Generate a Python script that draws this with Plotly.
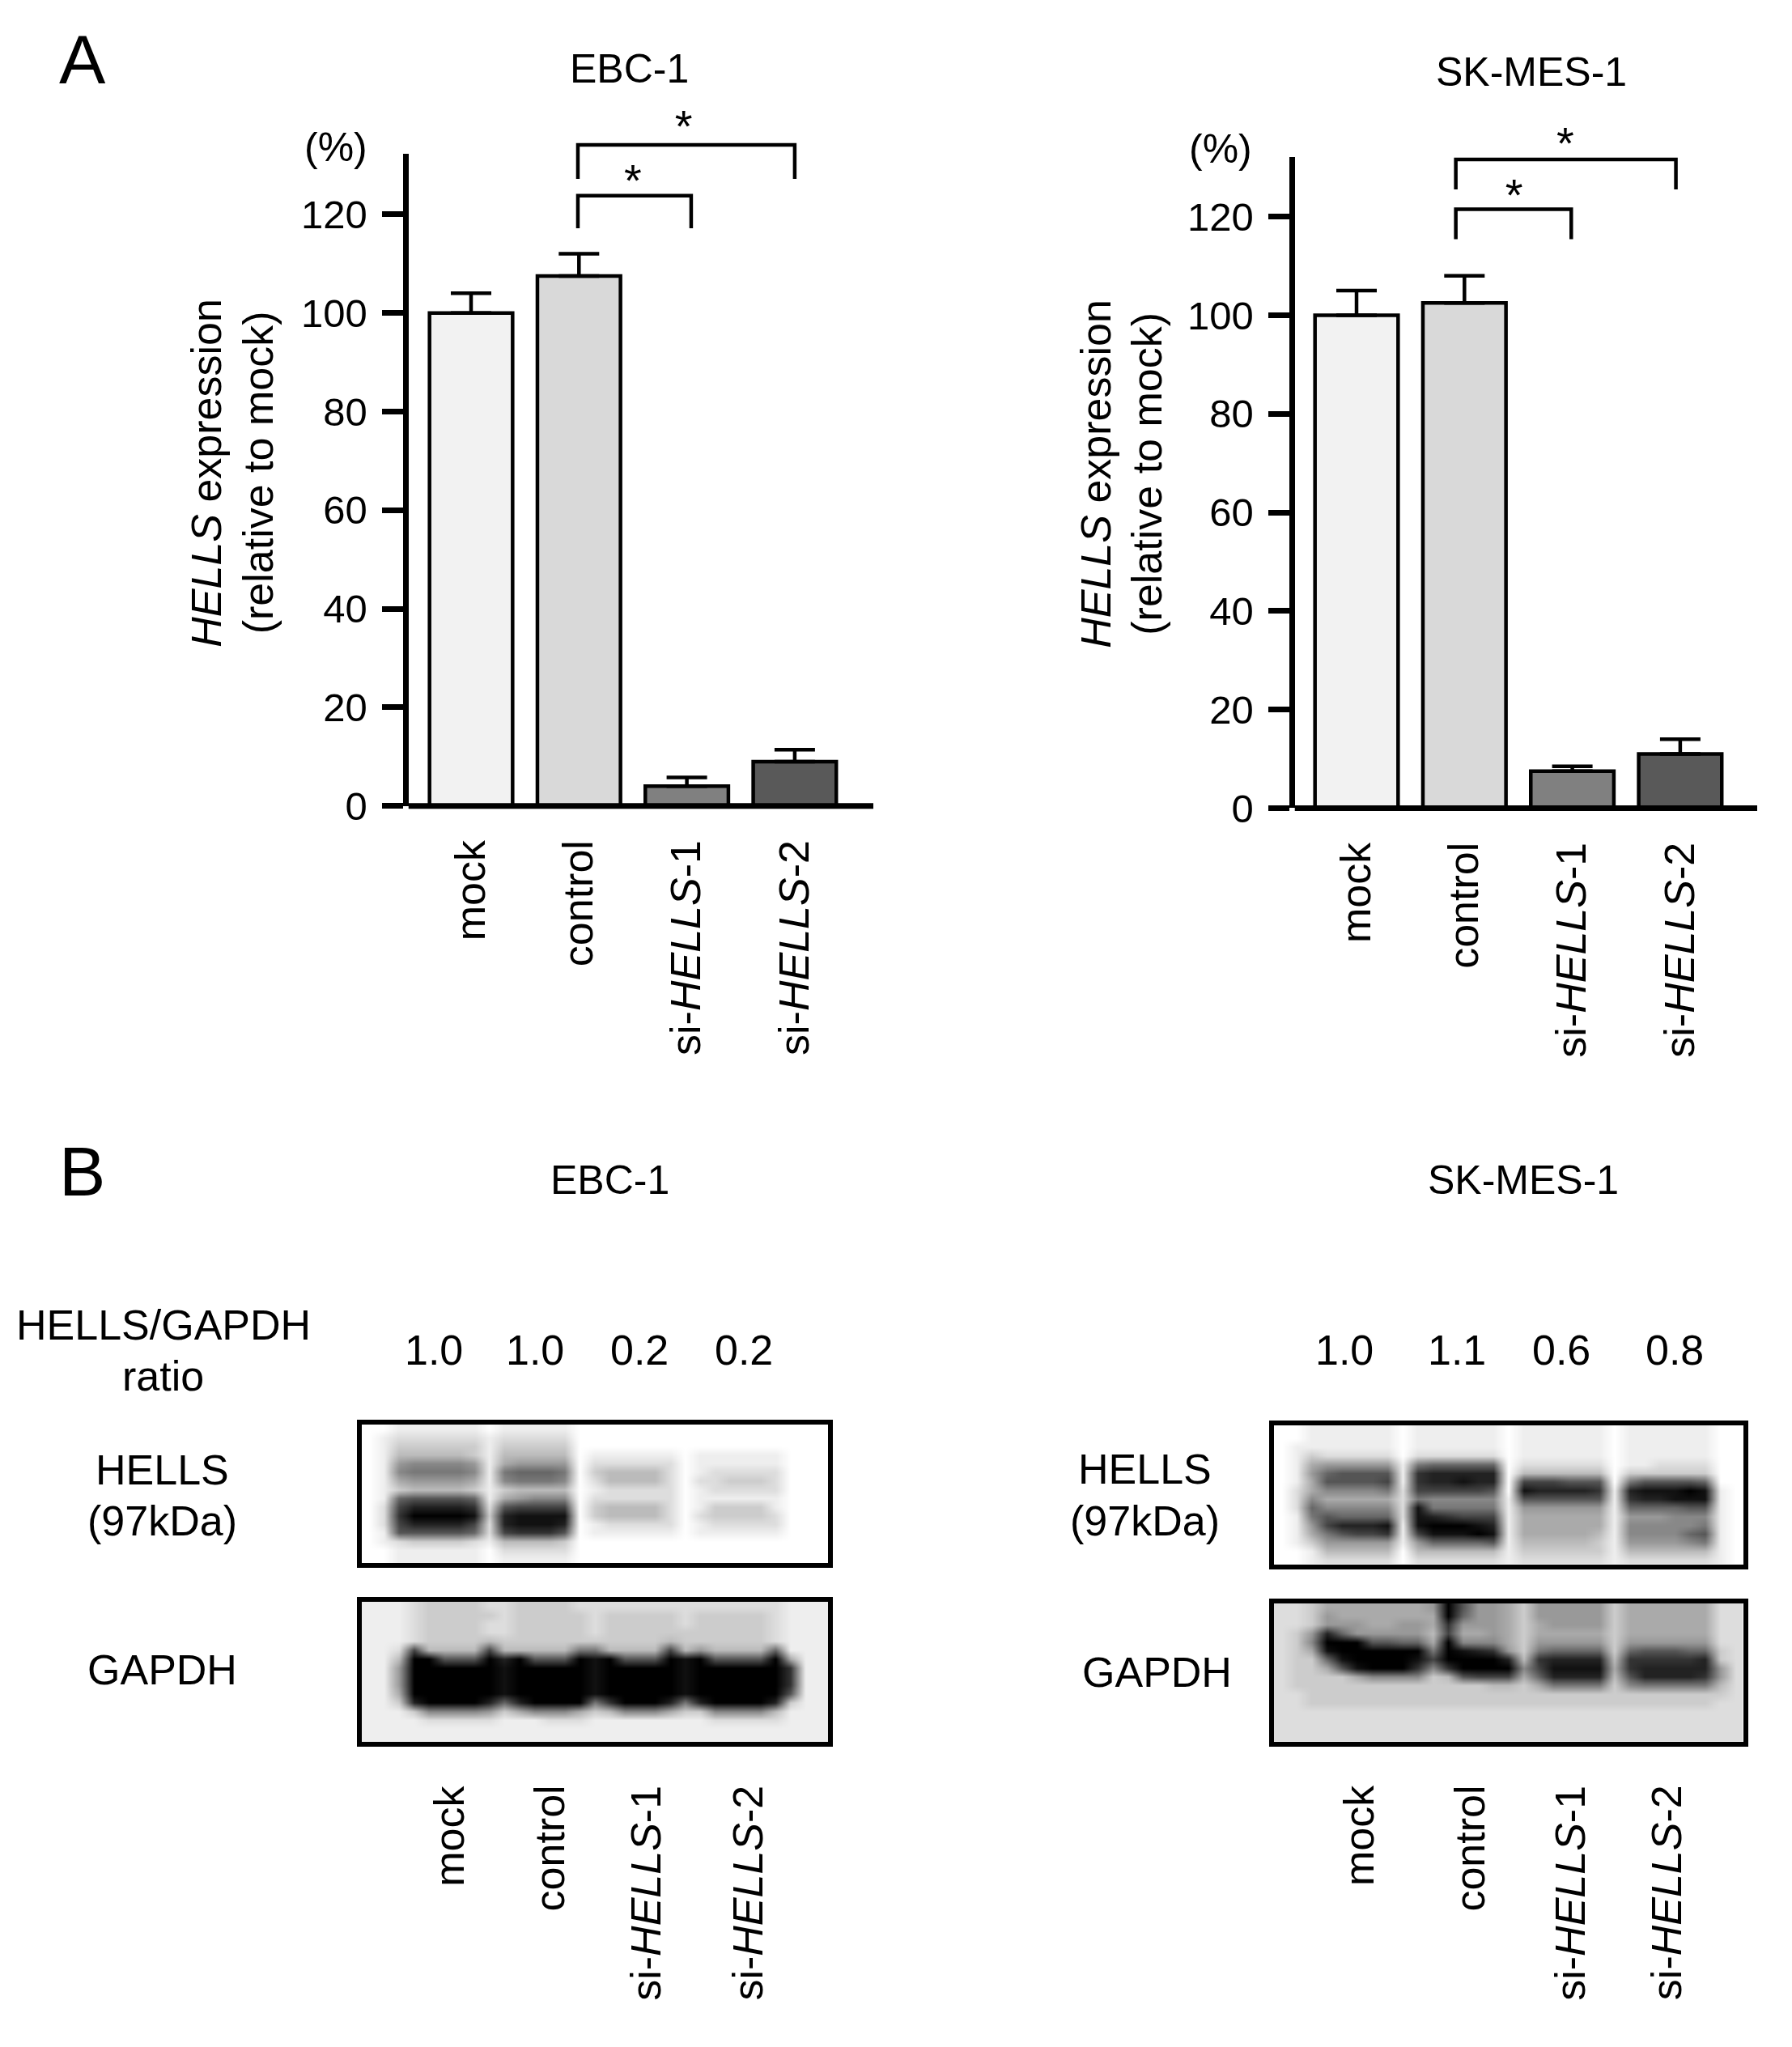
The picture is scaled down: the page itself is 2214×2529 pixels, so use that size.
import plotly.graph_objects as go

W, H = 2214, 2529
PAGE_MARGIN = 8
S = 1.613
FONT = "Liberation Sans"

# ---------- data ----------
categories = ["mock", "control", "si-<i>HELLS</i>-1", "si-<i>HELLS</i>-2"]
bar_colors = ["#f2f2f2", "#d9d9d9", "#808080", "#595959"]
y_ticks = [0, 20, 40, 60, 80, 100, 120]

ebc_values = [100, 107.5, 4, 9]
ebc_errors = [4, 4.5, 1.8, 2.4]
sk_values = [100, 102.5, 7.5, 11]
sk_errors = [5, 5.5, 1.0, 3]

ebc_bracket_x = [[0.99, 0.99, 3.0, 3.0], [0.99, 0.99, 2.04, 2.04]]
ebc_bracket_y = [[127.2, 134.1, 134.1, 127.2], [117.2, 123.8, 123.8, 117.2]]
ebc_star_x = [1.97, 1.50]
ebc_star_y = [137, 126]
sk_bracket_x = [[0.92, 0.92, 2.96, 2.96], [0.92, 0.92, 1.99, 1.99]]
sk_bracket_y = [[125.5, 131.6, 131.6, 125.5], [115.4, 121.5, 121.5, 115.4]]
sk_star_x = [1.935, 1.46]
sk_star_y = [134, 123.5]

ebc_ratio = ["1.0", "1.0", "0.2", "0.2"]
ebc_ratio_x = [332, 410, 490, 570]
sk_ratio = ["1.0", "1.1", "0.6", "0.8"]
sk_ratio_x = [1030, 1116, 1196, 1283]

# Blot densitometry read by eye: one hex digit per cell, 0 = black, f = white.
ebc_hells = [
    "ff eeeeee f eeeee f ffffff f ffffff fff",
    "fe dddddd e ddddd f ffffff f ffffff fff",
    "fe cccccc e ccccc f ffffff f ffffff fff",
    "fe bbbbbc e bbbbb f eeeeee f eeeeee fff",
    "fe 988889 e a9999 f dddddd f eeeeee fff",
    "fe 877778 e 76667 f cbbbbd f eddddd fff",
    "fe a9999a e 87778 f dbbbbd f ddcccd fff",
    "fe cbbbbc e cbbbb f eddddd f eddddd fff",
    "fe 655556 e a9888 f dddddd f eeeeee fff",
    "fd 422223 d 54444 f cbbbbd f ecccce fff",
    "fd 300001 c 21111 f cbbbbd f dccccd fff",
    "fd 422224 d 21112 f eddddd f eddddd fff",
    "fe 555556 d 43335 f eeeeee f eeeeee fff",
    "fe dccccd e bbbbc f ffffff f ffffff fff",
    "ff eeeeee f ddddd f ffffff f ffffff fff",
    "ff eeeeee f eeeee f ffffff f ffffff fff",
]
ebc_gapdh = [
    "eee dccccd d ccccd d ddddd d dddddd eee",
    "eee dccccc d ccccc d ccccc d cccccd eee",
    "eee dccccd d ccccc d ccccc d cccccd eee",
    "eee dccccd d ccccc d ccccc c cccccd eee",
    "eee dccccb c ccccc c ccccb c cccccd eee",
    "eed 4bbbb4 b bbbb7 7 bbbb4 b 9bbbb6 eee",
    "eeb 005550 2 05550 1 05550 1 055550 aee",
    "ee9 000000 1 00000 1 00000 1 000000 3ee",
    "ee9 000000 1 00000 1 00000 1 000000 3ee",
    "ee9 000000 1 00000 1 00000 1 000000 3ee",
    "eea 000000 1 00000 1 00000 1 000000 5ee",
    "eec 200002 6 20000 7 30002 7 200002 cee",
    "eee c88889 c a888a c b888a c c8888b eee",
    "eee eddddd e eeddd e eeeee e eddddd eee",
    "eee eeeeee e eeeee e eeeee e eeeeee eee",
    "eee eeeeee e eeeee e eeeee e eeeeee eee",
]
sk_hells = [
    "ff eeeeee f eeeeee f eeeeee f eeeeee ff",
    "ff eeeeee f eeeeee f eeeeee f eeeeee ff",
    "fe eeeeee f eeeeee f eeeeee f eeeeee ff",
    "fe cddddd f dddddd f eeeeee f eeeeee ff",
    "fe a99999 e 766666 f dddddd f eedddd ff",
    "fe 965555 e 322222 f bbbbbb f cccccc ff",
    "fe a55554 e 322122 f 444555 f 755556 ff",
    "fd a88887 d 444445 f 122223 e 211101 ef",
    "fd 8aaaaa d 788888 e 555555 e 322111 ef",
    "fd 688888 d 177777 e 999999 e 666655 ef",
    "fe 756666 d 123444 e aaaaaa e 999888 ef",
    "fe 942221 e 100012 e aaaaaa e 888887 ef",
    "fe a75443 e 411101 e aaaaab e 888865 ef",
    "fe c99999 e 966665 e bbbbbc e 999987 ef",
    "ff ebbbbb f bbbbbb e cccccc e bbbbbb ef",
    "ff eddddd f dddddd e dddddd e dddddd ef",
]
sk_gapdh = [
    "ddc aaaaaaa 9 0599a c 99999 c aaaaaa dd",
    "ddc 9aaaaaa a 0699a c 99999 c aaaaaa dd",
    "ddc 999aa99 a 3999a c a9999 c aaaaaa dd",
    "dc9 2699999 b 4aa9a c aaaaa c aaaaaa dd",
    "dc8 0005566 a 0888a c 99999 c 999999 dd",
    "dca 1000000 7 01239 c 76666 c 655566 cd",
    "dcc 6100001 4 00002 b 32222 b 333332 cd",
    "dcc a510003 8 30000 8 41111 a 322222 9d",
    "dcc cca8888 c b5444 a 62222 b 522223 9d",
    "dcc ccccccc c cccbb c a7777 c 877777 bd",
    "ddc ccccccc c ccccc c ccccc c cccccc cd",
    "ddc ccccccc c ccccc c ccccc c cccccc dd",
    "ddd ddddddd d ddddd d ddddd d dddddd dd",
    "ddd ddddddd d ddddd d ddddd d dddddd dd",
    "ddd ddddddd d ddddd d ddddd d dddddd dd",
    "ddd ddddddd d ddddd d ddddd d dddddd dd",
]


def decode(rows):
    return [[int(c, 16) * 17 for c in r.replace(" ", "")] for r in rows]


# ---------- geometry helpers (screen pixels -> paper fractions) ----------
FW, FH = W - 2 * PAGE_MARGIN, H - 2 * PAGE_MARGIN


def fx(px):
    return (px - PAGE_MARGIN) / FW


def fy(py):
    return 1 - (py - PAGE_MARGIN) / FH


fig = go.Figure()
annotations = []


def text(s, ix, iy, size=50, angle=0, xanchor="center", yanchor="middle"):
    annotations.append(dict(
        text=s, x=fx(ix * S), y=fy(iy * S), xref="paper", yref="paper",
        xanchor=xanchor, yanchor=yanchor, showarrow=False, textangle=angle,
        font=dict(family=FONT, size=size, color="black"),
    ))


LW = 7
FRAME_LW = 6
BAR_LW = 4.5
PITCH = 133.3
OVERLAY_TOP = 100
OVERLAY_BELOW = 40


def bar_panel(n, ov, values, errors, brx, bry, stx, sty, x_axis_px, y_top, y_zero, right_end, first_bar, ppu):
    xa, ya = ("x", "y") if n == 1 else (f"x{n}", f"y{n}")
    xo, yo = f"x{ov}", f"y{ov}"
    x0 = x_axis_px + LW / 2
    y0 = y_zero
    xr = [(x0 - first_bar) / PITCH, (right_end - first_bar) / PITCH]
    yr = [0, (y0 - y_top) / ppu]
    yr_over = [-OVERLAY_BELOW / ppu, (y0 - OVERLAY_TOP) / ppu]
    fig.add_trace(go.Bar(
        x=list(range(4)), y=values, width=0.77, xaxis=xa, yaxis=ya,
        marker=dict(color=bar_colors, line=dict(color="black", width=BAR_LW)),
        error_y=dict(type="data", symmetric=False, array=errors, arrayminus=[0] * 4,
                     color="black", thickness=BAR_LW, width=25),
        showlegend=False,
    ))
    # baseline sits centred on y = 0, as in the reference
    fig.add_trace(go.Scatter(x=xr, y=[0, 0], mode="lines", xaxis=xo, yaxis=yo, cliponaxis=False,
                             line=dict(color="black", width=LW), showlegend=False))
    for bx, by in zip(brx, bry):
        fig.add_trace(go.Scatter(x=bx, y=by, mode="lines", xaxis=xo, yaxis=yo, cliponaxis=False,
                                 line=dict(color="black", width=BAR_LW), showlegend=False))
    fig.add_trace(go.Scatter(x=stx, y=sty, mode="text", text=["*"] * len(stx), xaxis=xo, yaxis=yo,
                             cliponaxis=False, textposition="middle center",
                             textfont=dict(family=FONT, size=56, color="black"), showlegend=False))
    fig.update_layout({
        ("xaxis" if n == 1 else f"xaxis{n}"): dict(
            domain=[fx(x0), fx(right_end)], range=xr, anchor=ya, showgrid=False, zeroline=False,
            showline=False, ticks="", automargin=False,
            tickmode="array", tickvals=list(range(4)), ticktext=categories, tickangle=-90,
            ticklabelstandoff=31, tickfont=dict(family=FONT, size=52, color="black"),
        ),
        ("yaxis" if n == 1 else f"yaxis{n}"): dict(
            domain=[fy(y0), fy(y_top)], range=yr, anchor=xa, showgrid=False, zeroline=False,
            showline=True, linecolor="black", linewidth=LW, ticks="outside", ticklen=26, automargin=False,
            tickwidth=LW, tickcolor="black", tickmode="array", tickvals=y_ticks,
            ticklabelstandoff=8, tickfont=dict(family=FONT, size=49, color="black"),
        ),
        f"xaxis{ov}": dict(domain=[fx(x0), fx(right_end)], range=xr, anchor=yo, visible=False, automargin=False),
        f"yaxis{ov}": dict(domain=[fy(y0 + OVERLAY_BELOW), fy(OVERLAY_TOP)], range=yr_over, anchor=xo,
                           visible=False, automargin=False),
    })


bar_panel(1, 7, ebc_values, ebc_errors, ebc_bracket_x, ebc_bracket_y, ebc_star_x, ebc_star_y,
          501, 190, 995.7, 1079, 582, 6.09)
bar_panel(2, 8, sk_values, sk_errors, sk_bracket_x, sk_bracket_y, sk_star_x, sk_star_y,
          1596, 193.5, 998.4, 2171, 1676, 6.09)


def blot_panel(n, rows, x0, x1, y0, y1):
    xa, ya = f"x{n}", f"y{n}"
    z = decode(rows)
    fig.add_trace(go.Heatmap(
        z=z, xaxis=xa, yaxis=ya, zmin=0, zmax=255, zsmooth="best", showscale=False,
        colorscale=[[0, "black"], [1, "white"]], hoverinfo="skip",
    ))
    common = dict(showgrid=False, zeroline=False, showticklabels=False, ticks="", automargin=False,
                  showline=True, mirror=True, linecolor="black", linewidth=FRAME_LW)
    fig.update_layout({
        f"xaxis{n}": dict(domain=[fx(x0), fx(x1)], range=[-0.5, len(z[0]) - 0.5], anchor=ya, **common),
        f"yaxis{n}": dict(domain=[fy(y1), fy(y0)], range=[len(z) - 0.5, -0.5], anchor=xa, **common),
    })


blot_panel(3, ebc_hells, 446.5, 1023, 1760, 1931)
blot_panel(4, ebc_gapdh, 446.5, 1023, 1979, 2152)
blot_panel(5, sk_hells, 1574, 2153.5, 1761, 1932.5)
blot_panel(6, sk_gapdh, 1574, 2153.5, 1980.5, 2152)

# ---------- texts ----------
text("A", 63, 45, size=86)
text("B", 63, 897, size=86)
text("EBC-1", 482, 53)
text("SK-MES-1", 1173, 55)
text("EBC-1", 467, 904)
text("SK-MES-1", 1167, 904)
text("(%)", 257, 113)
text("(%)", 935, 114)
text("<i>HELLS</i> expression", 158, 362, angle=-90, size=52)
text("(relative to mock)", 198, 362, angle=-90, size=52)
text("<i>HELLS</i> expression", 839, 363, angle=-90, size=52)
text("(relative to mock)", 878, 363, angle=-90, size=52)
text("HELLS/GAPDH", 125, 1015, size=52)
text("ratio", 125, 1054, size=52)
text("HELLS", 124, 1126, size=52)
text("(97kDa)", 124, 1165, size=52)
text("GAPDH", 124, 1279, size=52)
text("HELLS", 877, 1125, size=52)
text("(97kDa)", 877, 1165, size=52)
text("GAPDH", 886, 1281, size=52)
for s, x in zip(ebc_ratio, ebc_ratio_x):
    text(s, x, 1034, size=52)
for s, x in zip(sk_ratio, sk_ratio_x):
    text(s, x, 1034, size=52)
for s, x in zip(categories, [344, 421, 495, 573]):
    text(s, x, 1366, angle=-90, yanchor="top", size=52)
for s, x in zip(categories, [1041, 1126, 1203, 1277]):
    text(s, x, 1366, angle=-90, yanchor="top", size=52)

fig.update_layout(
    width=FW, height=FH, margin=dict(l=0, r=0, t=0, b=0), autosize=False,
    paper_bgcolor="white", plot_bgcolor="rgba(0,0,0,0)", annotations=annotations,
    font=dict(family=FONT, color="black"),
)
fig.write_html("out.html")
